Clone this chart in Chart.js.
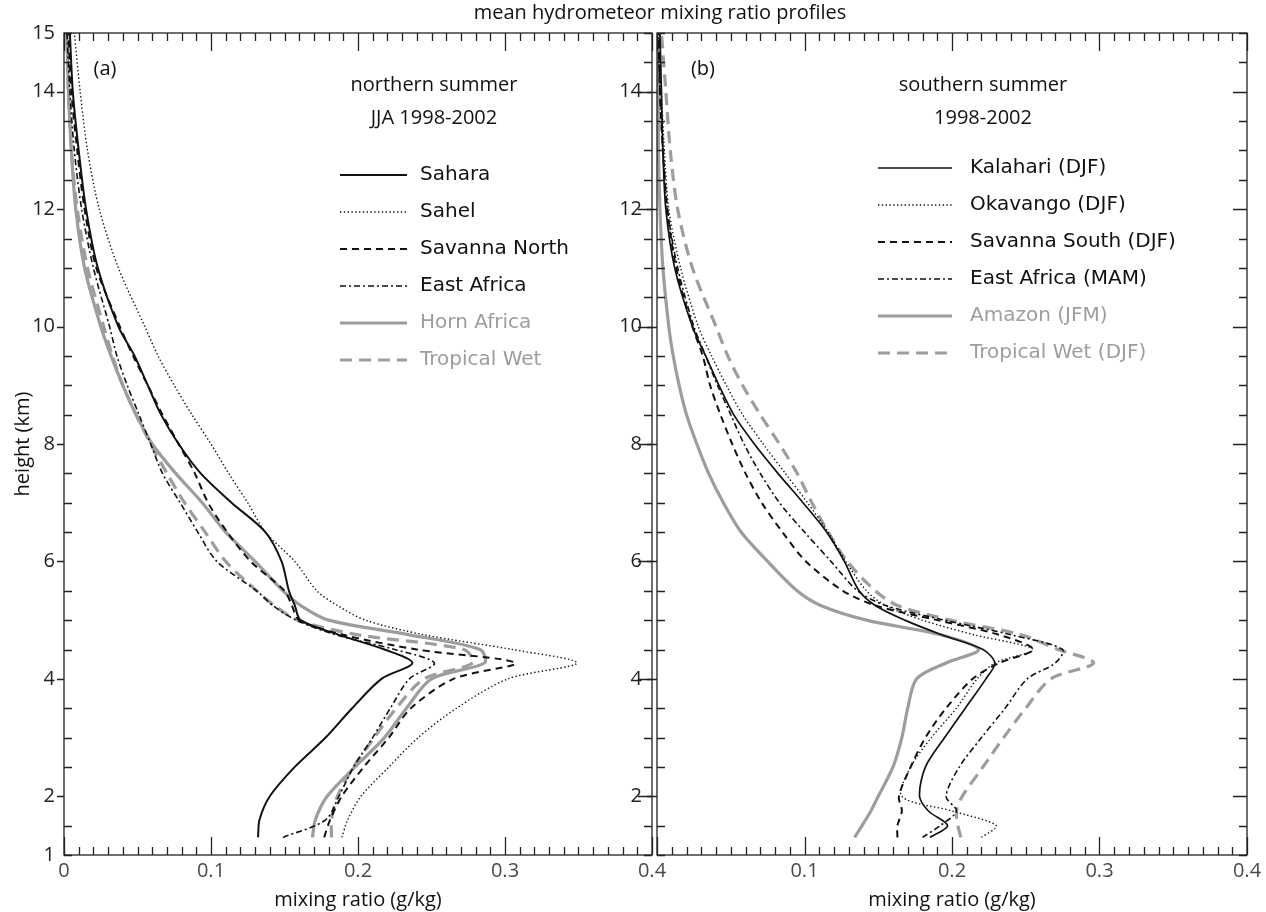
<!DOCTYPE html>
<html>
<head>
<meta charset="utf-8">
<script src="https://cdn.jsdelivr.net/npm/chart.js@4.4.1/dist/chart.umd.min.js"></script>
<style>
html,body{margin:0;padding:0;background:#fff;}
body{width:1266px;height:912px;position:relative;overflow:hidden;}
canvas{position:absolute;top:0;}
#cA{left:0;}
#cB{left:600px;}
.t{position:absolute;white-space:nowrap;color:#111;font-family:"Open Sans",sans-serif;font-size:20px;line-height:24px;text-align:center;}
</style>
</head>
<body>
<canvas id="cA" width="700" height="912"></canvas>
<canvas id="cB" width="666" height="912"></canvas>
<div class="t" style="left:455px;width:410px;top:0px;">mean hydrometeor mixing ratio profiles</div>
<div class="t" style="left:85px;width:40px;top:56px;">(a)</div>
<div class="t" style="left:334px;width:200px;top:72px;">northern summer</div>
<div class="t" style="left:334px;width:200px;top:105px;">JJA 1998-2002</div>
<div class="t" style="left:683px;width:40px;top:56px;">(b)</div>
<div class="t" style="left:883px;width:200px;top:72px;">southern summer</div>
<div class="t" style="left:883px;width:200px;top:105px;">1998-2002</div>
<script>
// ---------------- data ----------------
const heightsA = [1.3,1.6,2.0,2.5,3.0,3.5,4.0,4.27,4.5,4.75,5.0,5.25,5.5,6.0,6.5,7.0,7.5,8.0,8.5,9.0,9.5,10.0,11.0,12.0,13.0,14.0,15.0];
const sahara   = [0.132,0.133,0.140,0.157,0.178,0.196,0.216,0.237,0.218,0.187,0.161,0.157,0.153,0.148,0.137,0.114,0.093,0.078,0.066,0.057,0.048,0.037,0.023,0.015,0.010,0.006,0.004];
const sahel    = [0.189,0.193,0.202,0.221,0.241,0.267,0.302,0.349,0.305,0.245,0.205,0.186,0.172,0.157,0.137,0.125,0.112,0.100,0.087,0.075,0.064,0.055,0.037,0.024,0.016,0.011,0.007];
const savNorth = [0.177,0.181,0.189,0.204,0.221,0.236,0.265,0.307,0.240,0.190,0.160,0.155,0.150,0.127,0.111,0.098,0.089,0.078,0.067,0.057,0.047,0.038,0.022,0.014,0.009,0.005,0.003];
const eastAfrA = [0.149,0.178,0.187,0.197,0.210,0.222,0.235,0.252,0.225,0.185,0.158,0.142,0.131,0.104,0.091,0.079,0.067,0.059,0.051,0.043,0.036,0.031,0.020,0.012,0.007,0.004,0.002];
const hornAfr  = [0.169,0.171,0.179,0.198,0.218,0.233,0.250,0.286,0.283,0.235,0.180,0.161,0.149,0.130,0.110,0.094,0.076,0.060,0.049,0.040,0.032,0.025,0.014,0.008,0.005,0.003,0.002];
const tropWetA = [0.182,0.182,0.186,0.197,0.211,0.226,0.245,0.278,0.272,0.200,0.159,0.143,0.131,0.110,0.096,0.082,0.070,0.059,0.049,0.040,0.033,0.027,0.016,0.009,0.005,0.003,0.002];

const heightsB = [1.3,1.5,1.75,2.0,2.5,3.0,3.5,4.0,4.27,4.5,4.75,5.0,5.25,5.5,6.0,6.5,7.0,7.5,8.0,8.5,9.0,9.5,10.0,11.0,12.0,13.0,14.0,15.0];
const kalahari = [0.185,0.197,0.184,0.178,0.182,0.195,0.209,0.223,0.229,0.221,0.193,0.168,0.148,0.137,0.127,0.115,0.099,0.082,0.066,0.052,0.042,0.033,0.024,0.012,0.006,0.004,0.003,0.002];
const okavango = [0.220,0.230,0.200,0.166,0.172,0.186,0.203,0.217,0.229,0.255,0.215,0.180,0.155,0.142,0.128,0.116,0.102,0.087,0.072,0.058,0.047,0.037,0.028,0.016,0.008,0.005,0.003,0.002];
const savSouth = [0.163,0.163,0.166,0.164,0.172,0.182,0.196,0.214,0.232,0.255,0.232,0.190,0.148,0.126,0.101,0.085,0.071,0.060,0.051,0.043,0.036,0.031,0.024,0.013,0.007,0.004,0.002,0.001];
const eastAfrB = [0.180,0.192,0.203,0.196,0.205,0.220,0.236,0.251,0.270,0.275,0.240,0.195,0.155,0.136,0.118,0.100,0.083,0.070,0.059,0.050,0.041,0.033,0.025,0.014,0.007,0.004,0.002,0.001];
const amazon   = [0.134,0.139,0.145,0.150,0.160,0.166,0.170,0.176,0.196,0.218,0.192,0.142,0.111,0.095,0.075,0.057,0.045,0.035,0.027,0.020,0.015,0.011,0.008,0.004,0.002,0.001,0.001,0.000];
const tropWetB = [0.206,0.204,0.203,0.207,0.221,0.235,0.250,0.267,0.296,0.272,0.247,0.199,0.163,0.148,0.129,0.116,0.105,0.095,0.083,0.070,0.058,0.048,0.040,0.024,0.014,0.009,0.006,0.003];

const xTicksA = [0,0.1,0.2,0.3,0.4];
const xTicksB = [0.1,0.2,0.3,0.4];
const yTicksA = [1,2,4,6,8,10,12,14,15];
const yTicksB = [2,4,6,8,10,12,14];

// ---------------- styles ----------------
const BLACK = '#111', GREY = '#9d9d9d';
const sty = {
  solid:   {c:BLACK, w:2.0, d:[]},
  solidB:  {c:BLACK, w:1.7, d:[]},
  dotted:  {c:BLACK, w:1.4, d:[1.4,2.4]},
  dashed:  {c:BLACK, w:2.0, d:[7,5]},
  dashdot: {c:BLACK, w:1.6, d:[6,3,2,3]},
  gsolid:  {c:GREY,  w:3.2, d:[]},
  gdashed: {c:GREY,  w:3.2, d:[12,7]}
};

function mk(label, xs, hs, s){
  return {label, data: xs.map((v,i)=>({x:v, y:hs[i]})), borderColor:s.c, backgroundColor:s.c,
    borderWidth:s.w, borderDash:s.d, showLine:true, pointRadius:0, pointHoverRadius:0,
    tension:0.3, fill:false, clip:0};
}

const framePlugin = {
  id:'frame',
  afterDatasetsDraw(chart, args, o){
    const {ctx, chartArea:{left,right,top,bottom}, scales:{x,y}} = chart;
    ctx.save();
    ctx.strokeStyle = '#222'; ctx.lineWidth = 1.3; ctx.setLineDash([]);
    ctx.strokeRect(left, top, right-left, bottom-top);
    ctx.beginPath();
    for(let i=0;i<=40;i++){
      const px = Math.round(x.getPixelForValue(i/100))+0.5;
      const L = (i%10===0) ? 18 : 8;
      ctx.moveTo(px,bottom); ctx.lineTo(px,bottom-L);
      ctx.moveTo(px,top); ctx.lineTo(px,top+L);
    }
    for(let k=2;k<=30;k++){
      const v = k/2; const py = Math.round(y.getPixelForValue(v))+0.5;
      const major = (v%2===0);
      if(major){ ctx.moveTo(left-o.outTick,py); ctx.lineTo(left,py); ctx.moveTo(right,py); ctx.lineTo(right-14,py); }
      else { ctx.moveTo(left,py); ctx.lineTo(left+8,py); ctx.moveTo(right,py); ctx.lineTo(right-8,py); }
    }
    ctx.stroke();
    ctx.restore();
  }
};

const legendPlugin = {
  id:'profLegend',
  afterDatasetsDraw(chart, args, o){
    const ctx = chart.ctx;
    chart.data.datasets.forEach((ds,i)=>{
      const yy = o.y0 + i*o.dy;
      ctx.save();
      ctx.strokeStyle = ds.borderColor; ctx.lineWidth = ds.borderWidth; ctx.setLineDash(ds.borderDash||[]);
      ctx.beginPath(); ctx.moveTo(o.x0,yy); ctx.lineTo(o.x1,yy); ctx.stroke();
      ctx.fillStyle = ds.borderColor; ctx.font = o.font; ctx.textBaseline = 'middle'; ctx.textAlign='left';
      ctx.fillText(ds.label, o.tx, yy);
      ctx.restore();
    });
  }
};

const FONT = "'Open Sans', sans-serif";
function makeOpts(xt, yt, yWidth, yPad, padRight, showYTitle, outTick, leg){
  return {
    responsive:false, animation:false, devicePixelRatio:1,
    layout:{padding:{top:33, right:padRight, left:0, bottom:0}},
    plugins:{legend:{display:false}, tooltip:{enabled:false}, frame:{outTick}, profLegend:leg},
    scales:{
      x:{type:'linear', min:0, max:0.4,
         afterBuildTicks:s=>{s.ticks = xt.map(v=>({value:v}));},
         afterFit:s=>{s.height = 57;},
         grid:{display:false, drawTicks:false}, border:{display:false},
         ticks:{autoSkip:false, maxRotation:0, padding:4, color:'#4a4a4a', font:{family:FONT,size:20},
                callback:v=> v===0 ? '0' : v.toFixed(1)},
         title:{display:true, text:'mixing ratio (g/kg)', color:'#111', font:{family:FONT,size:20}, padding:{top:5,bottom:0}}},
      y:{type:'linear', min:1, max:15,
         afterBuildTicks:s=>{s.ticks = yt.map(v=>({value:v}));},
         afterFit:s=>{s.width = yWidth;},
         grid:{display:false, drawTicks:false}, border:{display:false},
         ticks:{autoSkip:false, padding:yPad, color:'#222', font:{family:FONT,size:20}},
         title:{display:showYTitle, text:'height (km)', color:'#111', font:{family:FONT,size:20}, padding:{top:11,bottom:0}}}
    }
  };
}

new Chart(document.getElementById('cA'), {
  type:'scatter',
  data:{datasets:[
    mk('Sahara', sahara, heightsA, sty.solid),
    mk('Sahel', sahel, heightsA, sty.dotted),
    mk('Savanna North', savNorth, heightsA, sty.dashed),
    mk('East Africa', eastAfrA, heightsA, sty.dashdot),
    mk('Horn Africa', hornAfr, heightsA, sty.gsolid),
    mk('Tropical Wet', tropWetA, heightsA, sty.gdashed)
  ]},
  options: makeOpts(xTicksA, yTicksA, 64, 9, 48, true, 7,
    {x0:340, x1:407, tx:420, y0:175, dy:37, font:"20px 'DejaVu Sans', sans-serif"}),
  plugins:[framePlugin, legendPlugin]
});

new Chart(document.getElementById('cB'), {
  type:'scatter',
  data:{datasets:[
    mk('Kalahari (DJF)', kalahari, heightsB, sty.solidB),
    mk('Okavango (DJF)', okavango, heightsB, sty.dotted),
    mk('Savanna South (DJF)', savSouth, heightsB, sty.dashed),
    mk('East Africa (MAM)', eastAfrB, heightsB, sty.dashdot),
    mk('Amazon (JFM)', amazon, heightsB, sty.gsolid),
    mk('Tropical Wet (DJF)', tropWetB, heightsB, sty.gdashed)
  ]},
  options: makeOpts(xTicksB, yTicksB, 57, 15, 19, false, 10,
    {x0:278, x1:352, tx:370, y0:168, dy:37, font:"20px 'DejaVu Sans', sans-serif"}),
  plugins:[framePlugin, legendPlugin]
});
</script>
</body>
</html>
